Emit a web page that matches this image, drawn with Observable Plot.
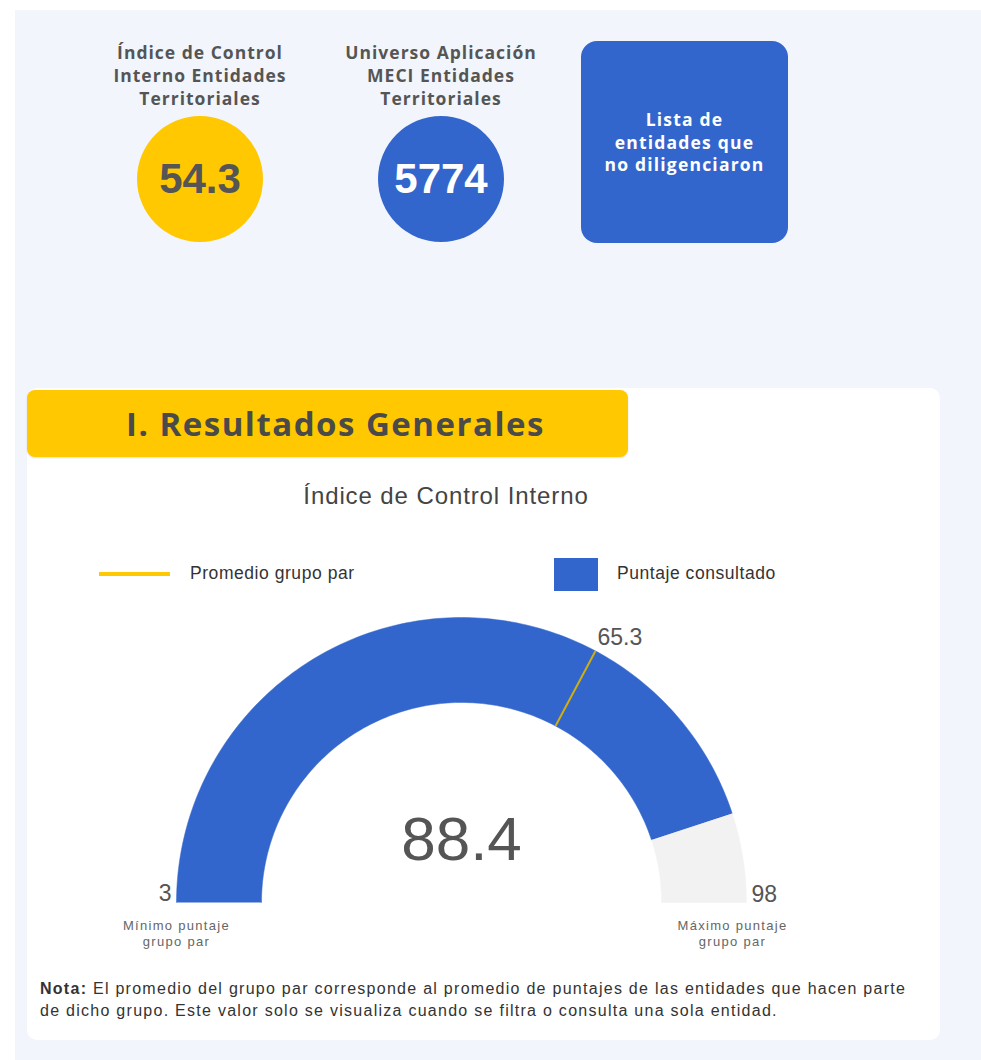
<!DOCTYPE html>
<html>
<head>
<meta charset="utf-8">
<script src="https://cdn.jsdelivr.net/npm/d3@7"></script>
<script src="https://cdn.jsdelivr.net/npm/@observablehq/plot@0.6"></script>
<style>
  html, body { margin: 0; padding: 0; background: #ffffff; }
  body { width: 981px; height: 1060px; position: relative; overflow: hidden; }
  .abs { position: absolute; }
  #panel { left: 15px; top: 10px; width: 966px; height: 1050px; background: #f2f5fc; }
  .kpi-label { font-family: "Open Sans", sans-serif; font-weight: 700; font-size: 17.5px; letter-spacing: 1px; line-height: 23px; color: #555; text-align: center; width: 260px; }
  .kpi-circle { width: 126px; height: 126px; border-radius: 50%; display: flex; align-items: center; justify-content: center; font-family: "Liberation Sans", Arial, sans-serif; font-weight: 700; font-size: 42px; }
  #listbox { left: 581px; top: 41px; width: 207px; height: 202px; background: #3366cc; border-radius: 16px; display: flex; align-items: center; justify-content: center; text-align: center; color: #fff; font-family: "Open Sans", sans-serif; font-weight: 700; font-size: 17.5px; letter-spacing: 1.2px; line-height: 22.5px; }
  #card { left: 27px; top: 388px; width: 913px; height: 652px; background: #fff; border-radius: 10px; }
  #banner { left: 27px; top: 390px; width: 601px; height: 67px; background: #ffc800; border-radius: 8px; box-shadow: 0 1px 2px rgba(0,0,0,0.12); display: flex; align-items: center; justify-content: center; font-family: "Open Sans", sans-serif; font-weight: 700; font-size: 33px; letter-spacing: 1.5px; color: #4a4a4a; padding-left: 16px; box-sizing: border-box; }
  #ctitle { left: 27px; width: 838px; top: 482px; text-align: center; font-family: "Liberation Sans", Arial, sans-serif; font-size: 24px; letter-spacing: 0.9px; color: #444; }
  .leg-text { font-family: "Liberation Sans", Arial, sans-serif; font-size: 17.5px; letter-spacing: 0.55px; color: #333; }
  #note { left: 40px; top: 978px; font-family: "Liberation Sans", Arial, sans-serif; font-size: 16px; letter-spacing: 1.27px; line-height: 22px; color: #333; white-space: nowrap; }
</style>
</head>
<body>
<div id="panel" class="abs"></div>
<div id="kpis"></div>
<div id="card" class="abs"></div>
<div id="banner" class="abs"></div>
<div id="ctitle" class="abs"></div>
<div id="legend"></div>
<div id="gauge" class="abs" style="left:0px; top:600px;"></div>
<div id="note" class="abs"></div>
<script>
// ---- data ----
const kpiLabels = ["Índice de Control\nInterno Entidades\nTerritoriales", "Universo Aplicación\nMECI Entidades\nTerritoriales"];
const kpiValues = ["54.3", "5774"];
const kpiColors = ["#ffc800", "#3366cc"];
const kpiTextColors = ["#555555", "#ffffff"];
const buttonLabel = ["Lista de", "entidades que", "no diligenciaron"];
const sectionTitle = ["I. Resultados Generales"];
const chartTitle = ["Índice de Control Interno"];
const legendLabels = ["Promedio grupo par", "Puntaje consultado"];
const gaugeRange = [3, 98];          // mínimo, máximo puntaje grupo par
const scoreValue = [88.4];           // puntaje consultado
const peerAverage = [65.3];          // promedio grupo par
const rangeCaptions = ["Mínimo puntaje\ngrupo par", "Máximo puntaje\ngrupo par"];
const noteBold = "Nota:";
const noteLines = [" El promedio del grupo par corresponde al promedio de puntajes de las entidades que hacen parte", "de dicho grupo.  Este valor solo se visualiza cuando se filtra o consulta una sola entidad."];

// ---- KPI header ----
const kpiCenters = [200, 441];
const kpis = document.getElementById("kpis");
kpiLabels.forEach((lab, i) => {
  const l = document.createElement("div");
  l.className = "abs kpi-label";
  l.style.left = (kpiCenters[i] - 130) + "px";
  l.style.top = "41px";
  l.innerHTML = lab.split("\n").join("<br>");
  kpis.appendChild(l);
  const c = document.createElement("div");
  c.className = "abs kpi-circle";
  c.style.left = (kpiCenters[i] - 63) + "px";
  c.style.top = "116px";
  c.style.background = kpiColors[i];
  c.style.color = kpiTextColors[i];
  c.textContent = kpiValues[i];
  kpis.appendChild(c);
});
const lb = document.createElement("div");
lb.id = "listbox"; lb.className = "abs";
lb.innerHTML = buttonLabel.join("<br>");
kpis.appendChild(lb);

document.getElementById("banner").textContent = sectionTitle[0];
document.getElementById("ctitle").textContent = chartTitle[0];

// ---- legend ----
const legend = document.getElementById("legend");
legend.innerHTML = `
  <div class="abs" style="left:99px; top:572px; width:71px; height:4px; background:#ffc800;"></div>
  <div class="abs leg-text" style="left:190px; top:563px;">${legendLabels[0]}</div>
  <div class="abs" style="left:554px; top:558px; width:44px; height:33px; background:#3366cc;"></div>
  <div class="abs leg-text" style="left:617px; top:563px;">${legendLabels[1]}</div>`;

// ---- gauge (Observable Plot) ----
const [gMin, gMax] = gaugeRange;
const rOuter = 1, rInner = 200 / 285;
const angle = d3.scaleLinear().domain([gMin, gMax]).range([Math.PI, 0]);
function band(from, to, seg) {
  const n = 160;
  const outer = d3.range(n + 1).map(k => {
    const a = angle(from + (to - from) * k / n);
    return {seg, x: rOuter * Math.cos(a), y: rOuter * Math.sin(a)};
  });
  const inner = d3.range(n + 1).map(k => {
    const a = angle(to - (to - from) * k / n);
    return {seg, x: rInner * Math.cos(a), y: rInner * Math.sin(a)};
  });
  return outer.concat(inner);
}
const filled = band(gMin, scoreValue[0], "score");
const rest = band(scoreValue[0], gMax, "rest");
const avgA = angle(peerAverage[0]);
const avgLine = [{x1: rInner * Math.cos(avgA), y1: rInner * Math.sin(avgA), x2: rOuter * Math.cos(avgA), y2: rOuter * Math.sin(avgA)}];

const chart = Plot.plot({
  width: 981,
  height: 360,
  margin: 0,
  x: {domain: [-461 / 285, 520 / 285], axis: null},
  y: {domain: [-58 / 285, 302 / 285], axis: null},
  style: {background: "transparent", fontFamily: "'Liberation Sans', Arial, sans-serif", overflow: "visible"},
  marks: [
    Plot.line(filled, {x: "x", y: "y", fill: "#3366cc", stroke: "#3366cc", strokeWidth: 0.5}),
    Plot.line(rest, {x: "x", y: "y", fill: "#f2f2f2", stroke: "#f2f2f2", strokeWidth: 0.5}),
    Plot.link(avgLine, {x1: "x1", y1: "y1", x2: "x2", y2: "y2", stroke: "#cfae12", strokeWidth: 2}),
    Plot.text(peerAverage, {x: d => rOuter * Math.cos(angle(d)), y: d => rOuter * Math.sin(angle(d)), text: d => d.toFixed(1), textAnchor: "start", lineAnchor: "middle", dx: 2, dy: -13, fontSize: 23, fill: "#555"}),
    Plot.text(scoreValue, {x: 0, y: 62 / 285, text: d => d.toFixed(1), textAnchor: "middle", lineAnchor: "middle", fontSize: 62, fill: "#555"}),
    Plot.text([gaugeRange[0]], {x: -rOuter, y: 0, text: d => String(d), textAnchor: "end", lineAnchor: "middle", dx: -5, dy: -9, fontSize: 23, fill: "#555"}),
    Plot.text([gaugeRange[1]], {x: rOuter, y: 0, text: d => String(d), textAnchor: "start", lineAnchor: "middle", dx: 5, dy: -8, fontSize: 23, fill: "#555"}),
    Plot.text([rangeCaptions[0]], {x: -rOuter, y: 0, text: d => d, textAnchor: "middle", lineAnchor: "top", dy: 15, fontSize: 13, lineHeight: 1.3, fill: "#666"}),
    Plot.text([rangeCaptions[1]], {x: rOuter, y: 0, text: d => d, textAnchor: "middle", lineAnchor: "top", dx: -14, dy: 15, fontSize: 13, lineHeight: 1.3, fill: "#666"})
  ]
});
// widen the small caption lettering like the reference
chart.querySelectorAll("text").forEach(t => {
  if (/puntaje/.test(t.textContent)) t.style.letterSpacing = "1.3px";
});
document.getElementById("gauge").appendChild(chart);

// ---- note ----
document.getElementById("note").innerHTML = `<b>${noteBold}</b>${noteLines[0]}<br>${noteLines[1]}`;
</script>
</body>
</html>
